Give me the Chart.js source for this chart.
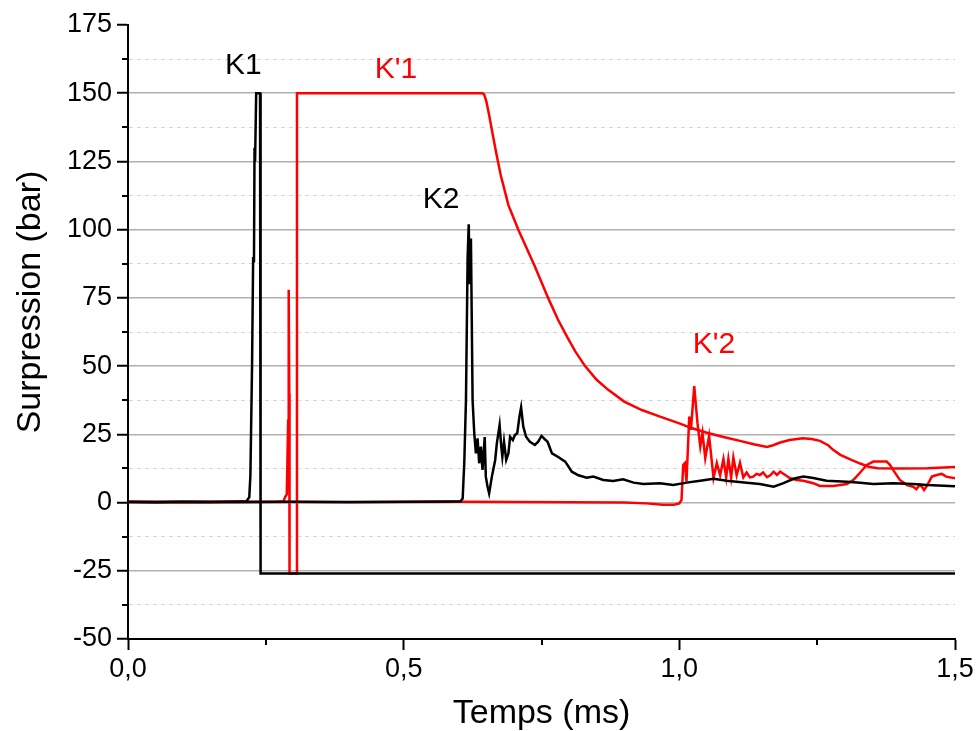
<!DOCTYPE html>
<html>
<head>
<meta charset="utf-8">
<script src="https://cdn.jsdelivr.net/npm/chart.js@4.4.1/dist/chart.umd.min.js"></script>
<style>
  html, body { margin: 0; padding: 0; background: #fff; }
  #wrap { width: 978px; height: 731px; }
</style>
</head>
<body>
<div id="wrap"><canvas id="mycanvas" width="978" height="731"></canvas></div>
<script>
// time (ms), surpression (bar)
var k1 = [
	[0, 0.3], [0.05, 0.1], [0.1, 0.3], [0.15, 0.2], [0.2, 0.4], [0.215, 0.5],
	[0.22, 2], [0.222, 10], [0.225, 50], [0.227, 90], [0.2285, 88], [0.2295, 130],
	[0.2305, 125], [0.2325, 150], [0.2395, 150], [0.2405, -26], [1.5, -26]
];

var k2 = [
	[0, 0.2], [0.1, 0.3], [0.2, 0.2], [0.3, 0.3], [0.4, 0.2], [0.5, 0.3], [0.58, 0.4],
	[0.603, 0.5], [0.607, 1.5], [0.61, 15], [0.613, 37.6], [0.616, 90], [0.618, 102],
	[0.62, 80], [0.622, 96.8], [0.625, 37.6], [0.628, 25.5], [0.631, 18], [0.634, 23.5],
	[0.637, 14.4], [0.640, 20.5], [0.643, 12], [0.647, 24], [0.649, 9.5], [0.652, 6],
	[0.655, 3.4], [0.660, 9.5], [0.666, 15.6], [0.669, 21.7], [0.674, 28.4], [0.677, 20.5],
	[0.679, 16.8], [0.682, 22.3], [0.686, 15.6], [0.690, 18], [0.693, 24.1], [0.698, 22.9],
	[0.702, 24.8], [0.706, 25.4], [0.710, 31.5], [0.713, 34.9], [0.717, 27.8], [0.722, 24.1],
	[0.729, 22.3], [0.738, 21.1], [0.744, 22.3], [0.750, 24.4], [0.756, 23.2], [0.761, 22.3],
	[0.769, 18], [0.781, 16.6], [0.793, 15], [0.805, 11.3], [0.817, 10], [0.832, 9.1],
	[0.844, 9.5], [0.862, 8.3], [0.880, 7.9], [0.898, 8.5], [0.917, 7.3], [0.935, 6.8],
	[0.965, 7.1], [0.989, 6.4], [1.013, 7.3], [1.038, 8], [1.062, 8.7], [1.086, 8],
	[1.122, 7.3], [1.146, 6.8], [1.171, 5.8], [1.189, 7.1], [1.207, 8.7], [1.225, 9.5],
	[1.243, 9], [1.267, 8], [1.304, 7.6], [1.328, 7.3], [1.352, 6.8], [1.388, 7.1],
	[1.424, 6.8], [1.449, 6.4], [1.5, 6.0]
];

var kp1 = [
	[0, 0.2], [0.1, 0.1], [0.2, 0.2], [0.27, 0.3], [0.282, 0.5], [0.285, 2], [0.288, 3],
	[0.2905, 30], [0.2915, 78], [0.2925, 40], [0.293, -26], [0.3055, -26], [0.3065, 150],
	[0.643, 150], [0.646, 149.5], [0.65, 147], [0.655, 142], [0.66, 136.5], [0.667, 129],
	[0.676, 120], [0.69, 109], [0.708, 100], [0.738, 86.5], [0.762, 75], [0.78, 67],
	[0.797, 60.5], [0.811, 55.5], [0.829, 50], [0.85, 45], [0.871, 41.3], [0.90, 37],
	[0.932, 33.9], [0.965, 31.5], [1.0, 29], [1.022, 27.3], [1.05, 25.6], [1.08, 24],
	[1.11, 22.6], [1.135, 21.4], [1.159, 20.4], [1.17, 21], [1.183, 22], [1.2, 22.9],
	[1.224, 23.6], [1.24, 23.3], [1.255, 22.6], [1.27, 21], [1.279, 19.3], [1.292, 17.5],
	[1.31, 15.8], [1.328, 14.3], [1.345, 13], [1.36, 12.6], [1.4, 12.5], [1.45, 12.6],
	[1.5, 13]
];

var kp2 = [
	[0, 0.2], [0.1, 0.1], [0.2, 0.2], [0.3, 0.2], [0.4, 0.1], [0.5, 0.2], [0.6, 0.3],
	[0.7, 0.2], [0.8, 0.1], [0.9, 0], [0.94, -0.3], [0.97, -0.8], [0.99, -0.8], [1.0, -0.3],
	[1.004, 1], [1.007, 13.8], [1.01, 14.5], [1.013, 7.7], [1.018, 31.5], [1.021, 26.6],
	[1.027, 42.7], [1.033, 29], [1.038, 20.5], [1.042, 25.5], [1.047, 16.3], [1.054, 24.4],
	[1.062, 9], [1.068, 14.5], [1.074, 10], [1.08, 16], [1.085, 9.2], [1.089, 16],
	[1.094, 9.2], [1.098, 16.5], [1.104, 10], [1.11, 14.6], [1.116, 9.2], [1.122, 11],
	[1.128, 9.2], [1.134, 9.5], [1.14, 10.5], [1.146, 10.1], [1.152, 11], [1.159, 9.3],
	[1.165, 10], [1.171, 11.3], [1.177, 10.1], [1.183, 11.3], [1.192, 10.1], [1.201, 8.9],
	[1.213, 8.3], [1.225, 8], [1.243, 7.1], [1.255, 6.1], [1.279, 6.1], [1.304, 6.8],
	[1.316, 8.3], [1.328, 11], [1.34, 13.8], [1.352, 15], [1.376, 15], [1.382, 13.8],
	[1.388, 11.9], [1.4, 8.3], [1.413, 6.4], [1.424, 5.8], [1.43, 4.9], [1.436, 6.5],
	[1.44, 5.8], [1.444, 4.6], [1.449, 6.1], [1.458, 9.5], [1.467, 10.1], [1.476, 10.5],
	[1.484, 9.5], [1.5, 8.9]
];

// peak labels, placed in data units
var peakLabels = [
	{ text: "K1", t: 0.209, p: 160, color: "#000000" },
	{ text: "K'1", t: 0.486, p: 158.5, color: "#ff0000" },
	{ text: "K2", t: 0.568, p: 111, color: "#000000" },
	{ text: "K'2", t: 1.063, p: 57.7, color: "#ff0000" }
];

var yTitle = "Surpression (bar)";

var FONT = "'Liberation Sans', Arial, sans-serif";

function toPoints(arr) {
	return arr.map(function(d){ return { x: d[0], y: d[1] }; });
}

function isMajorY(v) { return Math.abs(v / 25 - Math.round(v / 25)) < 1e-6; }
function isMajorX(v) { return Math.abs(v * 2 - Math.round(v * 2)) < 1e-6; }

var extras = {
	id: "extras",
	afterDraw: function(chart) {
		var c = chart.ctx, xs = chart.scales.x, ys = chart.scales.y;
		var area = chart.chartArea;
		c.save();
		c.strokeStyle = "#000";
		c.lineWidth = 2;
		// minor tick marks
		[0.25, 0.75, 1.25].forEach(function(v){
			var px = Math.round(xs.getPixelForValue(v));
			c.beginPath(); c.moveTo(px, area.bottom); c.lineTo(px, area.bottom + 6); c.stroke();
		});
		for (var v = -37.5; v < 175; v += 25) {
			var py = Math.round(ys.getPixelForValue(v));
			c.beginPath(); c.moveTo(area.left - 6, py); c.lineTo(area.left, py); c.stroke();
		}
		// labels
		c.font = "30px " + FONT;
		c.textAlign = "center";
		c.textBaseline = "middle";
		peakLabels.forEach(function(l){
			c.fillStyle = l.color;
			c.fillText(l.text, xs.getPixelForValue(l.t), ys.getPixelForValue(l.p));
		});
		// y title, sits a bit above the middle like the original
		c.fillStyle = "#000";
		c.font = "34px " + FONT;
		c.translate(31, 302);
		c.rotate(-Math.PI / 2);
		c.fillText(yTitle, 0, 0);
		c.restore();
	}
};

var chartdata = {
	datasets: [
		{ label: "K1", data: toPoints(k1), borderColor: "#000000", borderWidth: 2.5 },
		{ label: "K2", data: toPoints(k2), borderColor: "#000000", borderWidth: 2.5 },
		{ label: "K'1", data: toPoints(kp1), borderColor: "#ff0000", borderWidth: 2.5 },
		{ label: "K'2", data: toPoints(kp2), borderColor: "#ff0000", borderWidth: 2.5 }
	]
};

var ctx = document.getElementById("mycanvas");

var LineGraph = new Chart(ctx, {
	type: "line",
	data: chartdata,
	options: {
		responsive: false,
		animation: false,
		events: [],
		elements: {
			point: { radius: 0 },
			line: { tension: 0, fill: false }
		},
		layout: { padding: { left: 0, top: 25, right: 23, bottom: 0 } },
		plugins: { legend: { display: false }, tooltip: { enabled: false } },
		scales: {
			x: {
				type: "linear",
				min: 0,
				max: 1.5,
				afterFit: function(s){ s.height = 92; },
				ticks: {
					stepSize: 0.25,
					padding: 3,
					color: "#000",
					font: { family: FONT, size: 27 },
					maxRotation: 0,
					autoSkip: false,
					callback: function(v){ return isMajorX(v) ? v.toFixed(1).replace(".", ",") : ""; }
				},
				grid: {
					drawOnChartArea: false,
					tickLength: 11,
					tickWidth: 2,
					tickColor: function(c){ return c.tick && isMajorX(c.tick.value) ? "#000" : "rgba(0,0,0,0)"; }
				},
				border: { color: "#000", width: 2 },
				title: {
					display: true,
					text: "Temps (ms)",
					color: "#000",
					font: { family: FONT, size: 34, lineHeight: 1 },
					padding: { top: 0, bottom: 0 }
				}
			},
			y: {
				min: -50,
				max: 175,
				afterFit: function(s){ s.width = 128; },
				ticks: {
					stepSize: 12.5,
					padding: 5,
					color: "#000",
					font: { family: FONT, size: 27 },
					autoSkip: false,
					callback: function(v){ return isMajorY(v) ? String(v) : ""; }
				},
				grid: {
					tickLength: 11,
					tickWidth: 2,
					lineWidth: function(c){ return c.tick && isMajorY(c.tick.value) ? 1.5 : 1; },
					color: function(c){
						if (!c.tick) return "#b4b4b4";
						if (c.tick.value >= 175 || c.tick.value <= -50) return "rgba(0,0,0,0)";
						return isMajorY(c.tick.value) ? "#b0b0b0" : "#d6d6d6";
					},
					tickColor: function(c){ return c.tick && isMajorY(c.tick.value) ? "#000" : "rgba(0,0,0,0)"; }
				},
				border: {
					color: "#000",
					width: 2,
					dash: function(c){ return c.tick && !isMajorY(c.tick.value) ? [4, 4] : []; }
				},
				title: { display: false }
			}
		}
	},
	plugins: [extras]
});
</script>
</body>
</html>
